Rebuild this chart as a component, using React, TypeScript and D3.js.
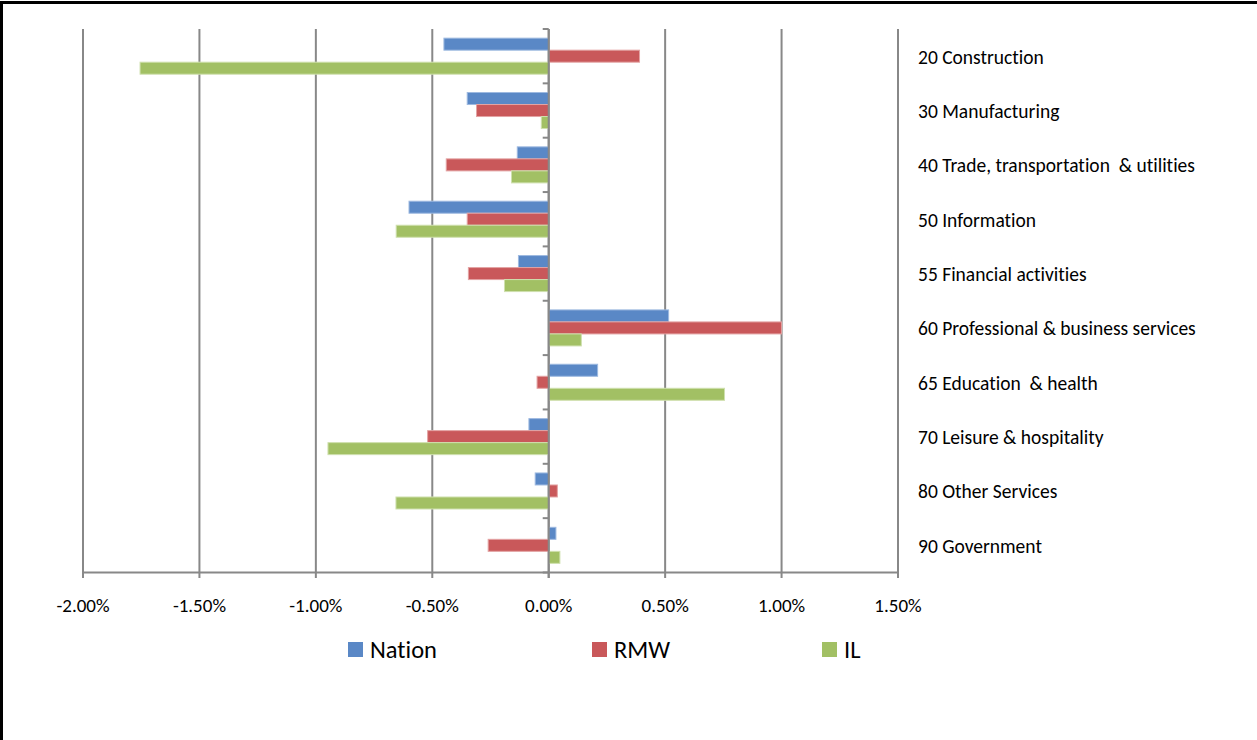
import React from 'react';
import * as d3 from 'd3';

// industries, top to bottom
const categories = [
  '20 Construction',
  '30 Manufacturing',
  '40 Trade, transportation  & utilities',
  '50 Information',
  '55 Financial activities',
  '60 Professional & business services',
  '65 Education  & health',
  '70 Leisure & hospitality',
  '80 Other Services',
  '90 Government',
];

// percent change
const nation = [-0.45, -0.35, -0.135, -0.6, -0.13, 0.515, 0.21, -0.085, -0.058, 0.031];
const rmw = [0.39, -0.31, -0.44, -0.35, -0.345, 1.0, -0.05, -0.52, 0.037, -0.26];
const il = [-1.755, -0.032, -0.16, -0.655, -0.19, 0.14, 0.755, -0.948, -0.656, 0.048];

const seriesNames = ['Nation', 'RMW', 'IL'];
const xTicks = [-2, -1.5, -1, -0.5, 0, 0.5, 1, 1.5];

const colors = ['#5A88C6', '#C9585A', '#A2C064'];
const strokes = ['#9DB9E0', '#E3A3A3', '#CFE0AE'];
const FONT = "Calibri, Carlito, 'Open Sans', sans-serif";
const GRID = '#888888';

const W = 1257;
const H = 740;
const plot = { left: 83, right: 898, top: 29, bottom: 572.5 };
const legendX = [348, 592, 822];

const textStyle: React.CSSProperties = { whiteSpace: 'pre', fontVariantLigatures: 'none' };

const App = () => {
  const series = [nation, rmw, il];

  const x = d3.scaleLinear().domain([-2, 1.5]).range([plot.left, plot.right]);
  const y = d3
    .scaleBand<string>()
    .domain(categories)
    .range([plot.top, plot.bottom])
    .paddingInner(0.337)
    .paddingOuter(0.1685);
  const inner = d3.scaleBand<string>().domain(seriesNames).range([0, y.bandwidth()]);
  const step = y.step();
  const x0 = x(0);
  // excel style: plain hyphen for negatives
  const fmt = (v: number) => d3.format('.2f')(v).replace('\u2212', '-') + '%';

  return (
    <svg width={W} height={H} style={{ position: 'absolute', left: 0, top: 0, background: '#fff' }}>
      {/* frame */}
      <rect x={0} y={1} width={W} height={3} fill="#000" />
      <rect x={0} y={1} width={3} height={H} fill="#000" />

      {/* vertical gridlines + ticks below axis */}
      {xTicks.map((t) => (
        <line key={t} x1={x(t)} x2={x(t)} y1={plot.top} y2={plot.bottom + 5.5} stroke={GRID} strokeWidth={2} />
      ))}

      {/* bars */}
      {categories.map((c, i) => (
        <g key={c} transform={`translate(0,${y(c)})`}>
          {series.map((s, k) => {
            const v = s[i];
            const xa = Math.min(x0, x(v));
            const w = Math.abs(x(v) - x0);
            return (
              <rect
                key={k}
                x={xa}
                y={inner(seriesNames[k])}
                width={w}
                height={inner.bandwidth()}
                fill={colors[k]}
                stroke={strokes[k]}
                strokeWidth={1}
              />
            );
          })}
        </g>
      ))}

      {/* zero axis with category ticks */}
      <line x1={x0} x2={x0} y1={plot.top} y2={plot.bottom + 5.5} stroke={GRID} strokeWidth={2} />
      {d3.range(categories.length + 1).map((i) => (
        <line
          key={i}
          x1={x0 - 6}
          x2={x0}
          y1={plot.top + i * step}
          y2={plot.top + i * step}
          stroke={GRID}
          strokeWidth={2}
        />
      ))}
      <line x1={plot.left} x2={plot.right + 1} y1={plot.bottom} y2={plot.bottom} stroke={GRID} strokeWidth={2} />

      {/* x tick labels */}
      {xTicks.map((t) => (
        <text key={t} x={x(t)} y={612} textAnchor="middle" fontFamily={FONT} fontSize={19} fill="#000" style={textStyle}>
          {fmt(t)}
        </text>
      ))}

      {/* category labels */}
      {categories.map((c) => (
        <text
          key={c}
          x={918}
          y={(y(c) as number) + y.bandwidth() / 2 + 0.5}
          dominantBaseline="central"
          fontFamily={FONT}
          fontSize={19.5}
          fill="#000"
          style={textStyle}
        >
          {c}
        </text>
      ))}

      {/* legend */}
      {seriesNames.map((n, k) => (
        <g key={n} transform={`translate(${legendX[k]},642)`}>
          <rect x={0} y={0} width={15} height={15} fill={colors[k]} />
          <text x={22} y={15.5} fontFamily={FONT} fontSize={24.5} fill="#000" style={textStyle}>
            {n}
          </text>
        </g>
      ))}
    </svg>
  );
};

export default App;
